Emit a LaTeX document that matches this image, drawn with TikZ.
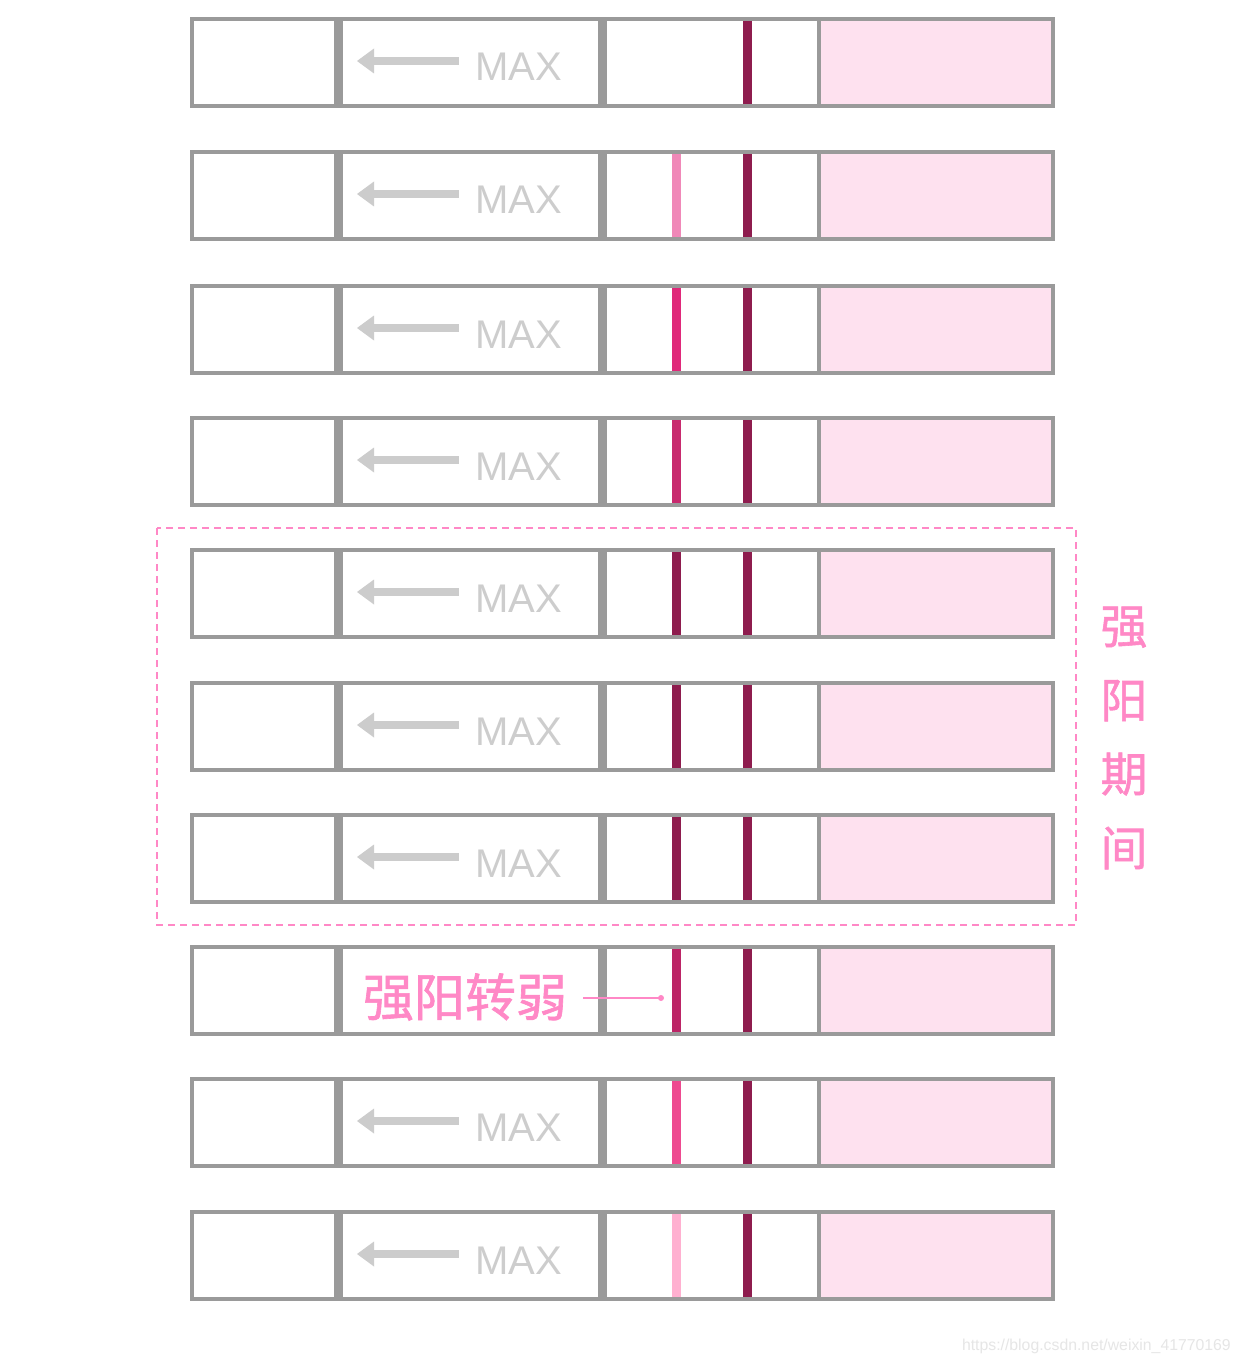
\documentclass[tikz,border=0pt]{standalone}
\usepackage{fontspec}
\setmainfont{Liberation Sans}
\newfontfamily\cjk[FakeBold=1.2]{Noto Sans CJK SC}
\definecolor{framegray}{HTML}{9A9A9A}
\definecolor{arrowgray}{HTML}{CCCCCC}
\definecolor{maxgray}{HTML}{CDCDCD}
\definecolor{padpink}{HTML}{FEE1EF}
\definecolor{ctrl}{HTML}{8E1C4E}
\definecolor{labelpink}{HTML}{FF88C6}
\definecolor{wmgray}{HTML}{E6E6E6}
\begin{document}
\begin{tikzpicture}[x=1pt,y=-1pt,
  frame/.style={draw=framegray,line width=4pt},
  divider/.style={draw=framegray,line width=9pt},
  band/.style={line width=9pt},
  maxtext/.style={anchor=base west,inner sep=0pt,text=maxgray,font=\fontsize{40}{40}\selectfont},
  pinktext/.style={text=labelpink,inner sep=0pt}]
\useasboundingbox[fill=white] (0,0) rectangle (1240,1364);
\foreach \y/\tc/\hastest/\lbl [count=\i] in {19/FFFFFF/0/1,152/F088B8/1/1,286/E0287A/1/1,418/C82A6E/1/1,550/8E1C4E/1/1,683/8E1C4E/1/1,815/8E1C4E/1/1,947/BC2466/1/0,1079/EE4A90/1/1,1212/FFB0D0/1/1}{
  \fill[padpink] (819,\y) rectangle (1053,\y+87);
  \draw[frame] (192,\y) rectangle (1053,\y+87);
  \draw[frame] (819,\y) -- (819,\y+87);
  \draw[divider] (338.5,\y) -- (338.5,\y+87);
  \draw[divider] (602,\y) -- (602,\y+87);
  \draw[band,draw=ctrl] (747,\y+2) -- (747,\y+85);
  \ifnum\hastest=1
    \definecolor{tcol}{HTML}{\tc}
    \draw[band,draw=tcol] (676.5,\y+2) -- (676.5,\y+85);
  \fi
  \ifnum\lbl=1
    \fill[arrowgray] (372,\y+38) rectangle (459,\y+46);
    \fill[arrowgray] (357,\y+42) -- (374,\y+29.5) -- (374,\y+54.5) -- cycle;
    \node[maxtext] (max\i) at (475,\y+62) {MAX};
  \fi
}
\draw[draw=labelpink,line width=2.6pt,dash pattern=on 7pt off 5pt] (157,528) rectangle (1076,925);
\node[pinktext,align=center,font=\cjk\fontsize{47}{74}\selectfont] (period) at (1124,738) {强\\阳\\期\\间};
\node[pinktext,font=\cjk\fontsize{51}{51}\selectfont] (weak) at (465,997) {强阳转弱};
\coordinate (dot) at (661,998);
\coordinate (lstart) at (583,998);
\draw[labelpink,line width=1.5pt] (lstart) -- (dot);
\fill[labelpink] (dot) circle (3pt);
\node[anchor=east,inner sep=0pt,text=wmgray,font=\fontsize{15.8}{16}\selectfont] (wm) at (1231,1346) {https://blog.csdn.net/weixin\_41770169};
\end{tikzpicture}
\end{document}
